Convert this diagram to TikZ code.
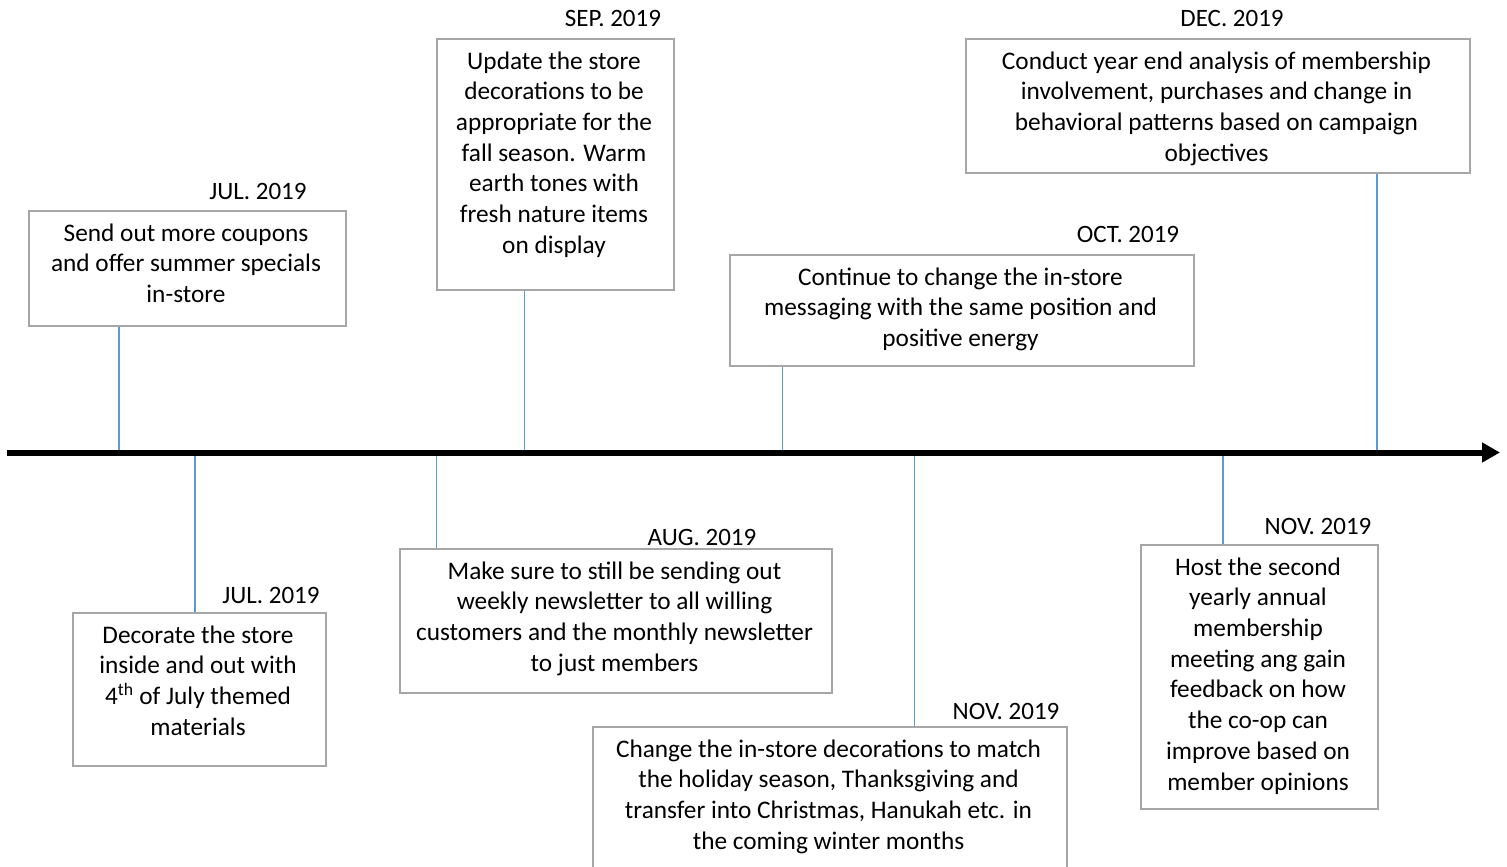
\documentclass[tikz,border=0pt]{standalone}
\usepackage{fontspec}
\setmainfont{Carlito}
\usetikzlibrary{arrows.meta,calc}
\definecolor{boxgray}{HTML}{A6A6A6}
\definecolor{linkblue}{HTML}{5B9BD5}
\tikzset{
  evbox/.style={draw=boxgray, line width=2pt, fill=white, inner sep=0pt},
  evtext/.style={anchor=north, inner sep=0pt, align=center, font=\fontsize{25.3}{30.7}\selectfont},
  datelbl/.style={anchor=base, inner sep=0pt, font=\fontsize{25}{30}\selectfont},
  link/.style={draw=linkblue, line width=1.7pt},
  axisline/.style={line width=6pt, -{Triangle[length=18pt,width=19pt]}}
}
\newcommand{\evbox}[6]{% name, x1, y1, x2, y2, text
  \node[evbox, minimum width={#4-#2}, minimum height={#5-#3}, anchor=north west] (#1) at (#2,#3) {};
  \node[evtext] (#1t) at ($(#1.north)+(-1.5,9.5)$) {\strut #6};
}
\begin{document}
\begin{tikzpicture}[x=1pt,y=-1pt]
\useasboundingbox (0,0) rectangle (1507,867);
\fill[white] (0,0) rectangle (1507,867);

% axis attachment points
\coordinate (p1) at (119,452);
\coordinate (p2) at (195,452);
\coordinate (p3) at (436.5,452);
\coordinate (p4) at (524.5,452);
\coordinate (p5) at (782.5,452);
\coordinate (p6) at (914.5,452);
\coordinate (p7) at (1223,452);
\coordinate (p8) at (1377,452);

% top boxes
\evbox{jula}{28}{210}{345}{325}{Send out more coupons\\and offer summer specials\\in-store}
\evbox{sep}{436}{38}{673}{289}{Update the store\\decorations to be\\appropriate for the\\fall season. Warm\\earth tones with\\fresh nature items\\on display}
\evbox{oct}{729}{254}{1193}{365}{Continue to change the in-store\\messaging with the same position and\\positive energy}
\evbox{dec}{965}{38}{1469}{172}{Conduct year end analysis of membership\\involvement, purchases and change in\\behavioral patterns based on campaign\\objectives}

% bottom boxes
\evbox{julb}{72}{612}{325}{765}{Decorate the store\\inside and out with\\4\textsuperscript{th} of July themed\\materials}
\evbox{aug}{399}{548}{831}{692}{Make sure to still be sending out\\weekly newsletter to all willing\\customers and the monthly newsletter\\to just members}
\evbox{nova}{592}{726}{1066}{885}{Change the in-store decorations to match\\the holiday season, Thanksgiving and\\transfer into Christmas, Hanukah etc. in\\the coming winter months}
\evbox{novb}{1140}{544}{1377}{808}{Host the second\\yearly annual\\membership\\meeting ang gain\\feedback on how\\the co-op can\\improve based on\\member opinions}

% date labels
\node[datelbl] (ljula) at (258,199) {JUL. 2019};
\node[datelbl] (lsep) at (613,27) {SEP. 2019};
\node[datelbl] (loct) at (1128,242) {OCT. 2019};
\node[datelbl] (ldec) at (1232,27) {DEC. 2019};
\node[datelbl] (ljulb) at (271,603) {JUL. 2019};
\node[datelbl] (laug) at (702,545) {AUG. 2019};
\node[datelbl] (lnova) at (1006,719) {NOV. 2019};
\node[datelbl] (lnovb) at (1318,534) {NOV. 2019};

% connectors
\draw[link] (jula.south -| p1) -- (p1);
\draw[link] (sep.south -| p4) -- (p4);
\draw[link] (oct.south -| p5) -- (p5);
\draw[link] (dec.south -| p8) -- (p8);
\draw[link] (p2) -- (julb.north -| p2);
\draw[link] (p3) -- (aug.north -| p3);
\draw[link] (p6) -- (nova.north -| p6);
\draw[link] (p7) -- (novb.north -| p7);

% axis (drawn on top of connector ends)
\coordinate (axs) at (7,452.5);
\coordinate (axe) at (1500,452.5);
\draw[axisline] (axs) -- (axe);
\end{tikzpicture}
\end{document}
